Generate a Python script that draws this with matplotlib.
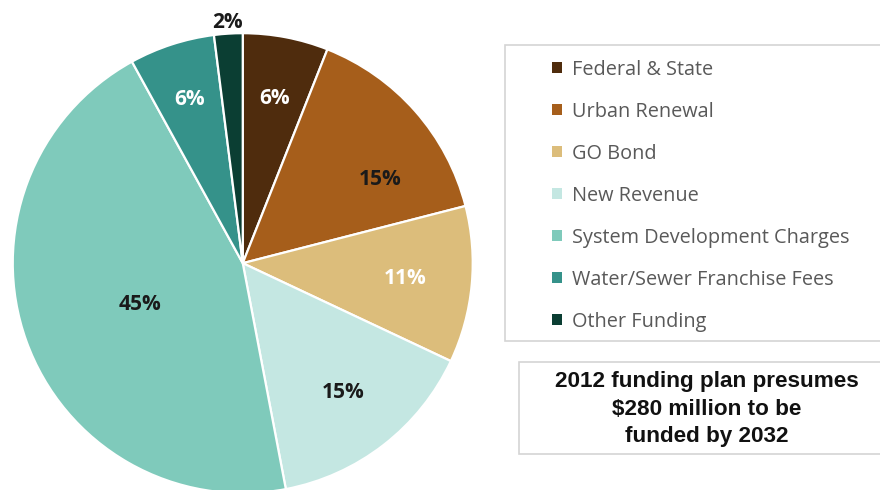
import numpy as np
import matplotlib.pyplot as plt
from matplotlib.patches import Rectangle

# Funding sources for the 2012 plan (percent of total)
sources = ["Federal & State", "Urban Renewal", "GO Bond", "New Revenue",
           "System Development Charges", "Water/Sewer Franchise Fees", "Other Funding"]
shares = [6, 15, 11, 15, 45, 6, 2]
colors = ["#4f2c0d", "#a65e1b", "#dcbd7b", "#c4e7e2", "#7fcabb", "#35928a", "#0b3e33"]
label_colors = ["white", "#1a1a1a", "white", "#1a1a1a", "#1a1a1a", "white", "#1a1a1a"]
# radial position of each percentage label, as a fraction of the radius
label_radius = [0.73, 0.70, 0.71, 0.71, 0.48, 0.75, 1.05]
label_nudge = [0, -10, 0, 0, 2, 0, 0]  # degrees

fig = plt.figure(figsize=(8.8, 4.9), dpi=100)
fig.patch.set_facecolor("white")

ax = fig.add_axes([0.0145, -0.0065, 0.5227, 0.9388])
wedges, _ = ax.pie(shares, colors=colors, startangle=90, counterclock=False,
                   wedgeprops=dict(edgecolor="white", linewidth=1.6))
ax.set_xlim(-1, 1)
ax.set_ylim(-1, 1)

for w, val, r, nudge, tc in zip(wedges, shares, label_radius, label_nudge, label_colors):
    ang = np.deg2rad((w.theta1 + w.theta2) / 2 + nudge)
    ax.text(r * np.cos(ang), r * np.sin(ang), f"{val}%", ha="center", va="center",
            fontsize=15, fontweight="bold", color=tc, family="Open Sans")

# legend frame and text box frame
frame_kw = dict(transform=fig.transFigure, facecolor="white", edgecolor="#d4d4d4",
                linewidth=1.2, clip_on=False)
fig.patches.append(Rectangle((505 / 880, 1 - 341 / 490), 400 / 880, 296 / 490, **frame_kw))
fig.patches.append(Rectangle((519 / 880, 1 - 454 / 490), 400 / 880, 92 / 490, **frame_kw))

leg = fig.legend(wedges, sources, loc="upper left", bbox_to_anchor=(534 / 880, 1 - 42 / 490),
                 frameon=False, handlelength=0.5, handleheight=0.5, handletextpad=0.5,
                 labelspacing=1.105, prop={"family": "Open Sans", "size": 14.3})
for t in leg.get_texts():
    t.set_color("#595959")
for h in leg.legend_handles:
    h.set_edgecolor("none")

fig.text(707 / 880, 1 - 409 / 490, "2012 funding plan presumes\n$280 million to be\nfunded by 2032",
         ha="center", va="center", fontsize=16.2, fontweight="bold", color="#111111",
         family="Liberation Sans", linespacing=1.42)

fig.savefig("out.png", dpi=100)
